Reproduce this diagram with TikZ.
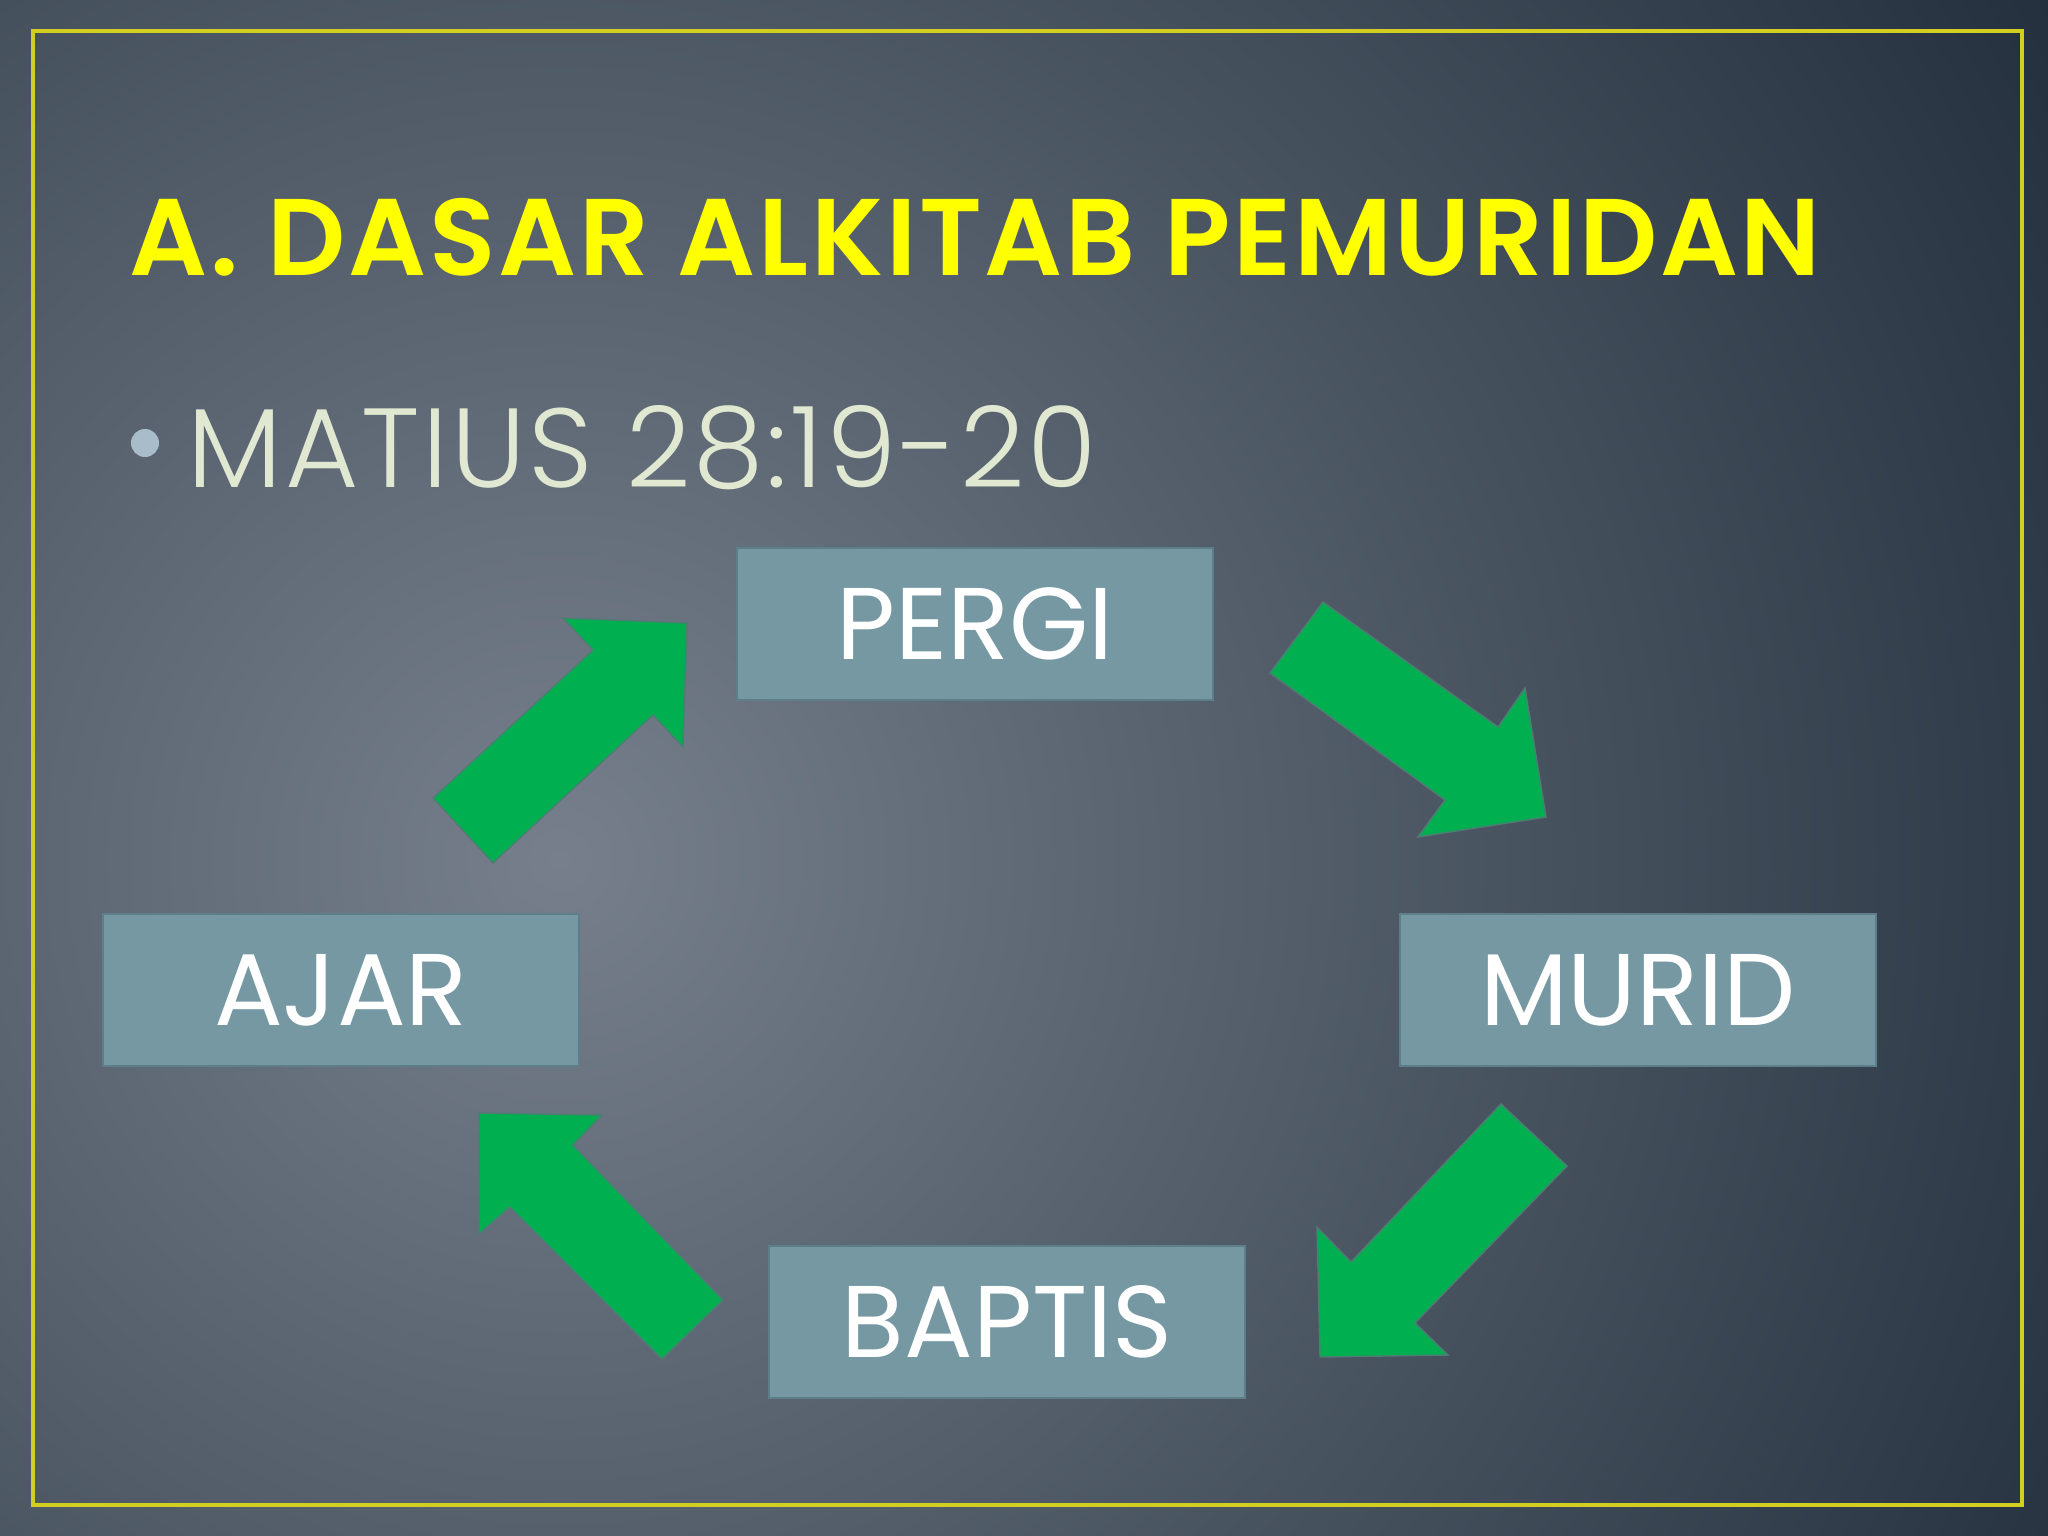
\documentclass[tikz,border=0pt]{standalone}
\usepackage{fontspec}
\setmainfont{Poppins}
\newfontfamily\headfont[LetterSpace=2.5]{Poppins SemiBold}
\newfontfamily\versefont[LetterSpace=2.5]{Poppins Light}
\usetikzlibrary{positioning}

\definecolor{bgdark}{HTML}{1E2A38}
\definecolor{bglight}{HTML}{767F8B}
\definecolor{framey}{HTML}{D2CF22}
\definecolor{titley}{HTML}{FFFF00}
\definecolor{boxfill}{HTML}{7598A3}
\definecolor{boxline}{HTML}{5E7F8A}
\definecolor{arrowgreen}{HTML}{00B050}
\definecolor{arrowedge}{HTML}{4F7C74}
\definecolor{versetext}{HTML}{E0E8D2}
\definecolor{bulletblue}{HTML}{A9BCCA}

\begin{document}
\begin{tikzpicture}[line cap=round,line join=miter,x=0.01cm,y=-0.01cm,
  wordbox/.style={rectangle,fill=boxfill,draw=boxline,line width=0.6pt,
    minimum width=4.76cm,minimum height=1.52cm,inner sep=0pt,
    text=white,font=\fontsize{29}{34}\selectfont},
  greenarrow/.style={fill=arrowgreen,draw=arrowedge,line width=0.4pt}]
% background
\fill[bgdark] (0,0) rectangle (2048,1536);
\begin{scope}
\clip (0,0) rectangle (2048,1536);
\shade[inner color=bglight,outer color=bgdark] (560,860) circle (1850);
\end{scope}
\draw[framey,line width=1.4pt] (33,31) rectangle (2022,1505);
% heading
\node[anchor=base west,inner sep=0pt,text=titley,font=\fontsize{31}{36}\selectfont\headfont] (title) at (129,275) {A. DASAR ALKITAB PEMURIDAN};
\node[circle,fill=bulletblue,minimum size=0.28cm,inner sep=0pt] (bullet) at (145,443) {};
\node[anchor=base west,inner sep=0pt,text=versetext,font=\fontsize{32}{38}\selectfont\versefont] (verse) at (187,487) {MATIUS 28:19-20};
% boxes
\node[wordbox] (pergi) at (975,624) {PERGI};
\node[wordbox] (murid) at (1638,990) {MURID};
\node[wordbox] (baptis) at (1007,1322) {BAPTIS};
\node[wordbox] (ajar) at (341,990) {AJAR};
% arrows
\filldraw[greenarrow] (433,798) -- (593,650) -- (563,618) -- (687,623) -- (683,747) -- (653,715) -- (493,863) -- cycle;
\filldraw[greenarrow] (1323,602) -- (1498,727) -- (1525,688) -- (1546,817) -- (1418,837) -- (1445,800) -- (1270,673) -- cycle;
\filldraw[greenarrow] (1501,1104) -- (1351,1262) -- (1317,1227) -- (1320,1357) -- (1448,1355) -- (1415,1323) -- (1567,1166) -- cycle;
\filldraw[greenarrow] (723,1300) -- (573,1145) -- (602,1115) -- (479,1113) -- (479,1234) -- (510,1207) -- (662,1359) -- cycle;
\end{tikzpicture}
\end{document}
